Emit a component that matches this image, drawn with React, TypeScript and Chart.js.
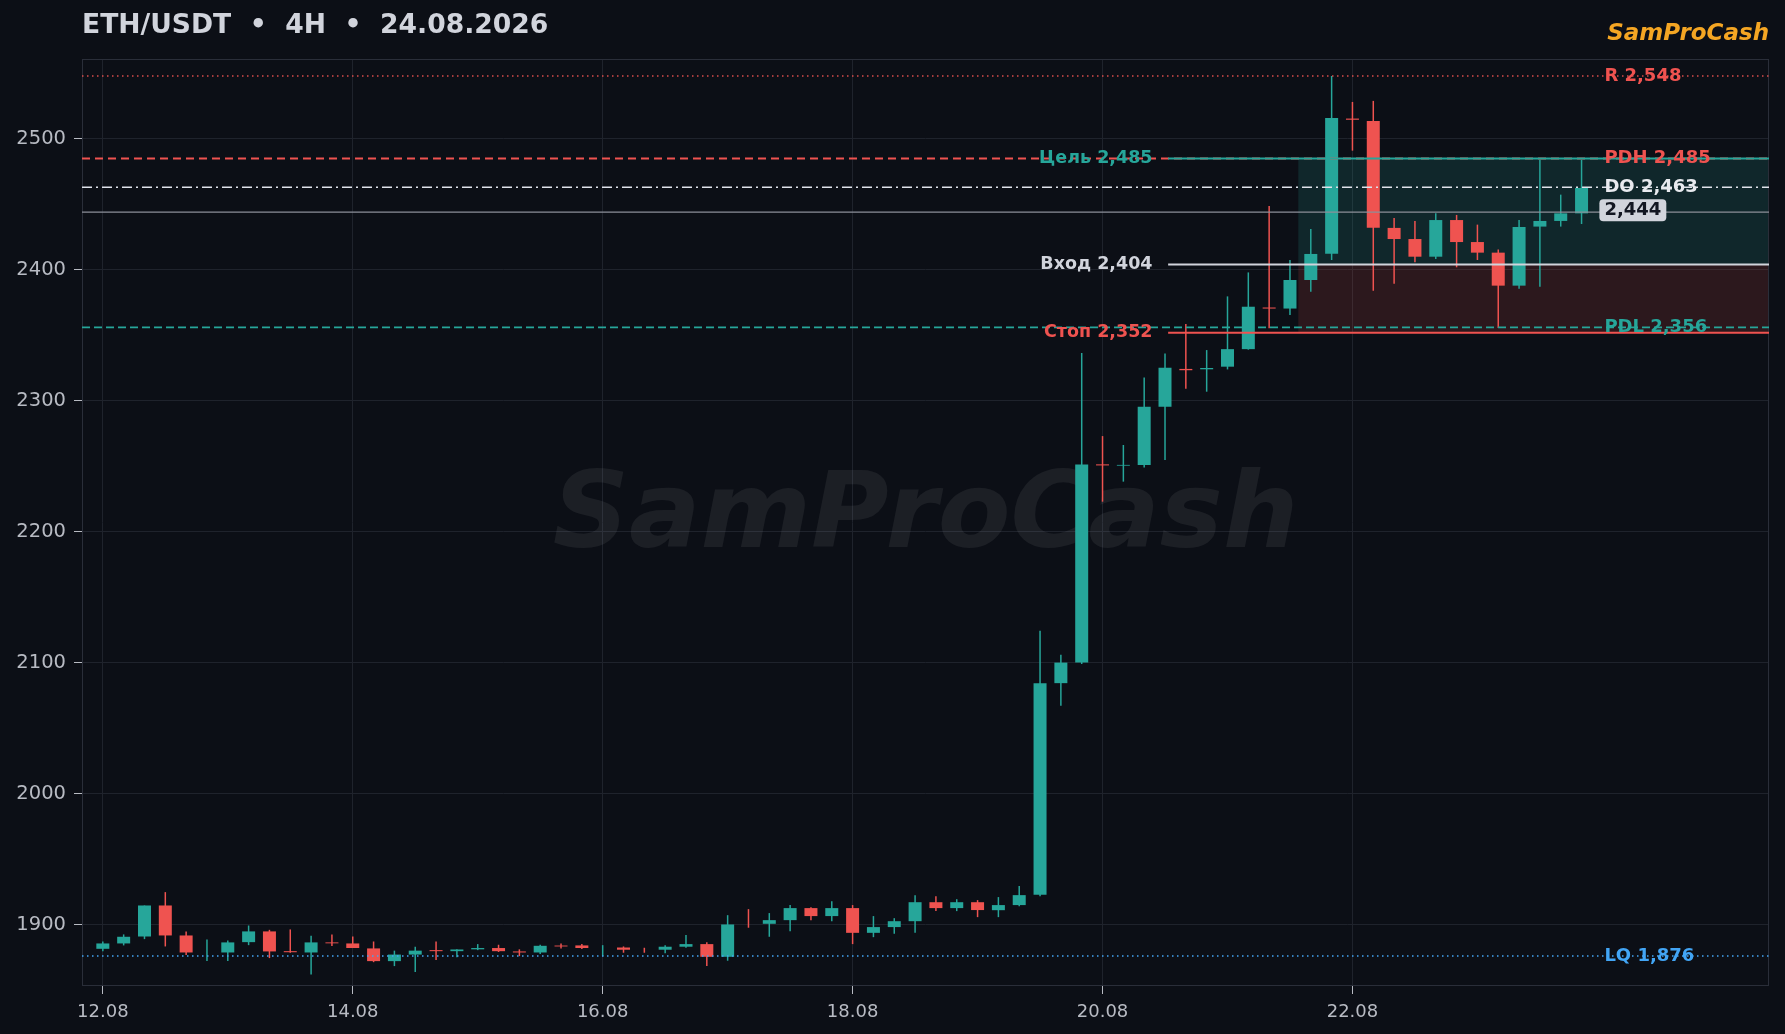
import React, { useEffect, useRef } from 'react';
import { Chart, registerables } from 'chart.js';

Chart.register(...registerables);

// ---------- data ----------
const chartTitle = 'ETH/USDT  •  4H  •  24.08.2026';
const brand = 'SamProCash';

const xTickIndex = [0, 12, 24, 36, 48, 60];
const xTickLabels = ['12.08', '14.08', '16.08', '18.08', '20.08', '22.08'];
const yTicks = [1900, 2000, 2100, 2200, 2300, 2400, 2500];

const opens = [
  1881.4, 1885.5, 1890.8, 1914.5, 1891.6, 1879.0, 1878.6, 1886.5, 1894.7, 1879.6,
  1878.6, 1886.3, 1885.5, 1881.7, 1872.0, 1877.0, 1880.4, 1879.6, 1881.0, 1882.0,
  1879.4, 1878.6, 1883.9, 1884.0, 1882.5, 1882.4, 1880.52, 1880.7, 1883.0, 1885.0,
  1875.3, 1905.02, 1900.5, 1903.3, 1912.5, 1906.4, 1912.5, 1893.6, 1898.0, 1902.5,
  1917.0, 1912.5, 1917.0, 1910.9, 1914.8, 1922.6, 2084.3, 2100.0, 2251.4, 2250.4,
  2250.9, 2295.4, 2324.3, 2324.0, 2326.0, 2339.4, 2371.2, 2370.4, 2392.2, 2412.2,
  2515.5, 2513.7, 2432.0, 2423.5, 2410.0, 2438.0, 2421.2, 2413.1, 2387.9, 2433.0,
  2437.3, 2443.1,
];
const highs = [
  1887.0, 1892.4, 1914.5, 1924.7, 1894.7, 1888.5, 1887.8, 1899.2, 1895.9, 1896.2,
  1891.3, 1892.4, 1890.8, 1887.0, 1880.0, 1883.0, 1887.0, 1881.0, 1885.0, 1884.5,
  1881.0, 1884.5, 1885.5, 1885.0, 1884.2, 1883.2, 1882.2, 1884.2, 1891.9, 1886.5,
  1907.1, 1911.7, 1908.7, 1914.8, 1913.2, 1917.8, 1914.8, 1906.4, 1904.8, 1922.4,
  1921.6, 1919.3, 1918.6, 1920.9, 1929.3, 2124.3, 2106.0, 2336.5, 2273.0, 2266.2,
  2317.8, 2336.1, 2358.6, 2338.7, 2379.7, 2398.0, 2448.7, 2407.5, 2431.2, 2548.0,
  2528.2, 2529.0, 2439.6, 2437.3, 2443.1, 2441.9, 2434.5, 2415.6, 2438.0, 2484.0,
  2457.4, 2484.0,
];
const lows = [
  1879.6, 1884.0, 1888.8, 1883.2, 1876.6, 1872.0, 1872.0, 1884.2, 1874.3, 1878.4,
  1861.8, 1883.5, 1882.0, 1871.2, 1868.2, 1863.6, 1872.8, 1875.0, 1880.4, 1879.0,
  1875.8, 1877.4, 1881.7, 1881.2, 1875.6, 1878.4, 1878.4, 1878.1, 1882.2, 1868.2,
  1872.3, 1897.5, 1890.6, 1894.9, 1903.3, 1902.5, 1885.0, 1890.3, 1892.9, 1893.6,
  1910.2, 1910.2, 1905.6, 1905.6, 1914.0, 1921.5, 2067.0, 2099.0, 2222.9, 2238.2,
  2249.1, 2254.7, 2309.2, 2306.9, 2323.9, 2339.0, 2355.3, 2365.5, 2383.3, 2407.5,
  2491.0, 2384.0, 2389.4, 2405.7, 2408.3, 2401.9, 2407.5, 2355.5, 2385.6, 2387.0,
  2433.0, 2435.0,
];
const closes = [
  1885.5, 1890.6, 1914.5, 1891.6, 1878.6, 1879.0, 1886.3, 1894.7, 1879.4, 1878.8,
  1886.3, 1885.6, 1882.0, 1872.0, 1877.0, 1880.0, 1879.6, 1880.9, 1882.0, 1879.6,
  1878.6, 1883.7, 1883.2, 1882.0, 1882.5, 1880.7, 1880.5, 1883.0, 1885.0, 1875.3,
  1900.0, 1905.0, 1903.3, 1912.5, 1906.4, 1912.5, 1893.6, 1898.0, 1902.5, 1917.0,
  1912.5, 1917.0, 1911.0, 1914.8, 1922.4, 2084.3, 2100.0, 2251.3, 2250.6, 2251.0,
  2295.4, 2325.2, 2323.3, 2325.0, 2339.4, 2371.8, 2370.4, 2392.2, 2412.1, 2516.0,
  2514.6, 2432.2, 2423.5, 2410.0, 2438.0, 2421.2, 2413.1, 2387.9, 2432.7, 2437.3,
  2443.1, 2462.5,
];

// key levels (right-hand labels)
const levelLabels = ['R 2,548', 'PDH 2,485', 'DO 2,463', 'PDL 2,356', 'LQ 1,876'];
const levelValues = [2548, 2485, 2463, 2356, 1876];
// trade plan (left-hand labels)
const tradeLabels = ['Цель 2,485', 'Вход 2,404', 'Стоп 2,352'];
const tradeValues = [2485, 2404, 2352];
const lastPrice = 2444;
const lastPriceLabel = '2,444';

// annotation anchors on the candle-index axis
const tradeLineStart = 51.15;
const tradeLabelEnd = 50.4;
const zoneStart = 57.4;
const rightLabelAt = 72;

// ---------- styles ----------
const BG = '#0c0f16';
const TEAL = '#26a69a';
const RED = '#ef5350';
const GRID = '#1f232c';
const FRAME = '#2a2e39';
const TICK_TEXT = '#b8bbc3';
const FONT = '"DejaVu Sans", sans-serif';

const levelStyles = [
  { color: 'rgba(239,83,80,0.9)', text: RED, width: 1.5, dash: [1.5, 3.5] },
  { color: RED, text: RED, width: 1.8, dash: [8, 5] },
  { color: '#e0e3eb', text: '#e8eaef', width: 1.5, dash: [10, 4, 2, 4] },
  { color: TEAL, text: TEAL, width: 1.6, dash: [8, 4] },
  { color: '#42a5f5', text: '#42a5f5', width: 1.5, dash: [1.5, 3.5] },
];
const tradeStyles = [
  { color: TEAL, text: TEAL },
  { color: '#d1d4dc', text: '#d1d4dc' },
  { color: RED, text: RED },
];

const overlay = {
  id: 'overlay',
  beforeDraw(chart: any) {
    const { ctx, width, height } = chart;
    ctx.save();
    ctx.fillStyle = BG;
    ctx.fillRect(0, 0, width, height);
    ctx.restore();
  },
  beforeDatasetsDraw(chart: any) {
    const { ctx, chartArea: a, scales } = chart;
    const x = scales.x;
    const y = scales.y;
    ctx.save();
    const zx = x.getPixelForValue(zoneStart);
    const yT = y.getPixelForValue(tradeValues[0]);
    const yE = y.getPixelForValue(tradeValues[1]);
    const yS = y.getPixelForValue(tradeValues[2]);
    ctx.fillStyle = 'rgba(38,166,154,0.16)';
    ctx.fillRect(zx, yT, a.right - zx, yE - yT);
    ctx.fillStyle = 'rgba(239,83,80,0.14)';
    ctx.fillRect(zx, yE, a.right - zx, yS - yE);
    // watermark
    ctx.font = 'italic bold 106px ' + FONT;
    ctx.fillStyle = 'rgba(255,255,255,0.065)';
    ctx.textAlign = 'center';
    ctx.textBaseline = 'middle';
    ctx.fillText(brand, (a.left + a.right) / 2, (a.top + a.bottom) / 2 - 3);
    ctx.restore();
  },
  afterDraw(chart: any) {
    const { ctx, chartArea: a, scales } = chart;
    const x = scales.x;
    const y = scales.y;
    ctx.save();
    // frame
    ctx.strokeStyle = FRAME;
    ctx.lineWidth = 1;
    ctx.setLineDash([]);
    ctx.strokeRect(a.left + 0.5, a.top + 0.5, a.right - a.left - 1, a.bottom - a.top - 1);

    const hline = (v: number, x0: number, x1: number, color: string, w: number, dash: number[]) => {
      const py = y.getPixelForValue(v);
      ctx.beginPath();
      ctx.setLineDash(dash);
      ctx.strokeStyle = color;
      ctx.lineWidth = w;
      ctx.moveTo(x0, py);
      ctx.lineTo(x1, py);
      ctx.stroke();
    };

    levelValues.forEach((v, i) => {
      const s = levelStyles[i];
      hline(v, a.left, a.right, s.color, s.width, s.dash);
    });
    hline(lastPrice, a.left, a.right, '#8b8f99', 1.2, []);
    const tx0 = x.getPixelForValue(tradeLineStart);
    tradeValues.forEach((v, i) => {
      hline(v, tx0, a.right, tradeStyles[i].color, 2, []);
    });
    ctx.setLineDash([]);

    // labels
    ctx.font = 'bold 18px ' + FONT;
    ctx.textBaseline = 'middle';
    const rx = x.getPixelForValue(rightLabelAt) + 2;
    ctx.textAlign = 'left';
    levelValues.forEach((v, i) => {
      ctx.fillStyle = levelStyles[i].text;
      ctx.fillText(levelLabels[i], rx, y.getPixelForValue(v));
    });
    ctx.font = 'bold 17.5px ' + FONT;
    const lx = x.getPixelForValue(tradeLabelEnd);
    ctx.textAlign = 'right';
    tradeValues.forEach((v, i) => {
      ctx.fillStyle = tradeStyles[i].text;
      ctx.fillText(tradeLabels[i], lx, y.getPixelForValue(v));
    });

    // last price box
    ctx.font = 'bold 18px ' + FONT;
    const lp = y.getPixelForValue(lastPrice);
    const tw = ctx.measureText(lastPriceLabel).width;
    const bx = x.getPixelForValue(rightLabelAt) - 3;
    const bw = tw + 10;
    const bh = 22;
    const by = lp - 13;
    ctx.fillStyle = '#d1d4dc';
    ctx.beginPath();
    (ctx as any).roundRect(bx, by, bw, bh, 4);
    ctx.fill();
    ctx.fillStyle = '#131722';
    ctx.textAlign = 'left';
    ctx.fillText(lastPriceLabel, bx + 5, by + bh / 2 + 0.5);

    // title & brand
    ctx.font = 'bold 26.6px ' + FONT;
    ctx.fillStyle = '#d1d4dc';
    ctx.textAlign = 'left';
    ctx.fillText(chartTitle, a.left, 26);
    ctx.font = 'italic bold 23px ' + FONT;
    ctx.fillStyle = '#f5a623';
    ctx.textAlign = 'right';
    ctx.fillText(brand, a.right, 34);
    ctx.restore();
  },
};

export default function App() {
  const ref = useRef<HTMLCanvasElement | null>(null);

  useEffect(() => {
    document.body.style.margin = '0';
    document.body.style.background = BG;
    Chart.defaults.font.family = FONT;
    const canvas = ref.current;
    if (!canvas) return;
    const colors = opens.map((o, i) => (closes[i] >= o ? TEAL : RED));
    const chart = new Chart(canvas, {
      type: 'bar',
      data: {
        datasets: [
          {
            label: 'body',
            data: opens.map((o, i) => ({ x: i, y: [o, closes[i]] })) as any,
            backgroundColor: colors,
            barThickness: 13,
            grouped: false,
            inflateAmount: 0,
            borderWidth: 0,
          } as any,
          {
            label: 'wick',
            data: lows.map((l, i) => ({ x: i, y: [l, highs[i]] })) as any,
            backgroundColor: colors,
            barThickness: 1.5,
            grouped: false,
            inflateAmount: 0,
            borderWidth: 0,
          } as any,
        ],
      },
      options: {
        responsive: false,
        animation: false,
        events: [],
        devicePixelRatio: 1,
        layout: { padding: { top: 59, right: 16, left: 0, bottom: 0 } },
        plugins: {
          legend: { display: false },
          tooltip: { enabled: false },
          title: { display: false },
        },
        scales: {
          x: {
            type: 'linear',
            min: -1,
            max: 80,
            offset: false,
            z: 1,
            grid: { offset: false, color: GRID, lineWidth: 1, tickColor: TICK_TEXT, tickLength: 8 },
            border: { display: false },
            afterBuildTicks: (s: any) => {
              s.ticks = xTickIndex.map((v) => ({ value: v }));
            },
            afterFit: (s: any) => {
              s.height = 48;
            },
            ticks: {
              color: TICK_TEXT,
              font: { size: 18, family: FONT },
              padding: 8,
              maxRotation: 0,
              autoSkip: false,
              callback: (v: any) => {
                const k = xTickIndex.indexOf(Number(v));
                return k >= 0 ? xTickLabels[k] : '';
              },
            },
          },
          y: {
            type: 'linear',
            min: 1853,
            max: 2561,
            z: 1,
            grid: { color: GRID, lineWidth: 1, tickColor: TICK_TEXT, tickLength: 8 },
            border: { display: false },
            afterBuildTicks: (s: any) => {
              s.ticks = yTicks.map((v) => ({ value: v }));
            },
            afterFit: (s: any) => {
              s.width = 82;
            },
            ticks: {
              color: TICK_TEXT,
              font: { size: 19.5, family: FONT },
              padding: 8,
              callback: (v: any) => String(v),
            },
          },
        },
      } as any,
      plugins: [overlay],
    });
    return () => chart.destroy();
  }, []);

  return <canvas ref={ref} width={1785} height={1034} style={{ display: 'block' }} />;
}
